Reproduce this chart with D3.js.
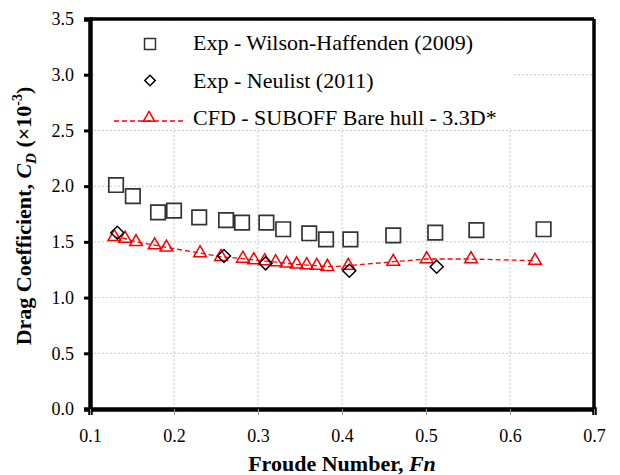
<!DOCTYPE html>
<html>
<head>
<meta charset="utf-8">
<script src="https://cdn.jsdelivr.net/npm/d3@7"></script>
<style>
  body { margin: 0; background: #fff; }
  svg text { font-family: "Liberation Serif", "Times New Roman", serif; fill: #000; }
</style>
</head>
<body>
<div id="chart"></div>
<script>
// Exp - Wilson-Haffenden (2009)
let wilsonFn = [0.131, 0.151, 0.181, 0.200, 0.230, 0.262, 0.281, 0.310, 0.330, 0.361, 0.381, 0.410, 0.461, 0.511, 0.560, 0.640]
let wilsonCd = [2.01, 1.91, 1.765, 1.78, 1.72, 1.695, 1.672, 1.672, 1.613, 1.577, 1.523, 1.523, 1.559, 1.582, 1.606, 1.613]

// Exp - Neulist (2011)
let neulistFn = [0.1325, 0.2595, 0.309, 0.4087, 0.5127]
let neulistCd = [1.582, 1.373, 1.307, 1.241, 1.277]

// CFD - SUBOFF Bare hull - 3.3D*
let cfdFn = [0.129, 0.1417, 0.1548, 0.177, 0.191, 0.231, 0.256, 0.282, 0.295, 0.308, 0.321, 0.334, 0.346, 0.358, 0.370, 0.3826, 0.4075, 0.461, 0.5008, 0.5536, 0.6298]
let cfdCd = [1.545, 1.53, 1.50, 1.47, 1.45, 1.40, 1.366, 1.35, 1.337, 1.328, 1.319, 1.307, 1.298, 1.292, 1.286, 1.277, 1.286, 1.322, 1.346, 1.346, 1.331]

let xTicks = [0.1, 0.2, 0.3, 0.4, 0.5, 0.6, 0.7]
let yTicks = [0, 0.5, 1.0, 1.5, 2.0, 2.5, 3.0, 3.5]

let legendLabels = ["Exp - Wilson-Haffenden (2009)", "Exp - Neulist (2011)", "CFD - SUBOFF Bare hull - 3.3D*"]

let W = 620, H = 475
let pLeft = 90, pRight = 594, pTop = 19, pBottom = 409
let serif = '"Liberation Serif", "Times New Roman", serif'

let svg = d3.select("#chart").append("svg")
  .attr("width", W)
  .attr("height", H)

let x = d3.scaleLinear().domain([0.1, 0.7]).range([pLeft, pRight])
let y = d3.scaleLinear().domain([0, 3.5]).range([pBottom, pTop])

// gridlines
svg.append("g").selectAll("line")
  .data(xTicks.slice(1, -1))
  .enter().append("line")
  .attr("x1", d => x(d)).attr("x2", d => x(d))
  .attr("y1", pTop).attr("y2", pBottom)
  .attr("stroke", "#c8c8c8").attr("stroke-width", 1).attr("stroke-dasharray", "2,2")

svg.append("g").selectAll("line")
  .data(yTicks.slice(1, -1))
  .enter().append("line")
  .attr("x1", pLeft).attr("x2", pRight)
  .attr("y1", d => y(d)).attr("y2", d => y(d))
  .attr("stroke", "#c8c8c8").attr("stroke-width", 1).attr("stroke-dasharray", "2,2")

// legend background hides the grid behind it
svg.append("rect")
  .attr("x", 95).attr("y", 23).attr("width", 418).attr("height", 105)
  .attr("fill", "#fff")

// frame: thin top/right, thick axes
svg.append("line").attr("x1", pLeft).attr("x2", pRight).attr("y1", pTop).attr("y2", pTop)
  .attr("stroke", "#000").attr("stroke-width", 3.5)
svg.append("line").attr("x1", pRight).attr("x2", pRight).attr("y1", pTop).attr("y2", pBottom)
  .attr("stroke", "#000").attr("stroke-width", 3.5)

// axes
let yAxis = svg.append("g")
  .attr("transform", `translate(${pLeft},0)`)
  .call(d3.axisLeft(y).tickValues(yTicks).tickFormat(d3.format(".1f")).tickSize(6).tickPadding(10))
yAxis.attr("font-family", serif)
yAxis.select(".domain").attr("stroke-width", 4.5)
yAxis.selectAll(".tick line").attr("stroke-width", 3)
yAxis.selectAll(".tick text").attr("font-size", 18).style("font-family", serif)

let xAxis = svg.append("g")
  .attr("transform", `translate(0,${pBottom})`)
  .call(d3.axisBottom(x).tickValues(xTicks).tickFormat(d3.format(".1f")).tickSize(6).tickPadding(14))
xAxis.attr("font-family", serif)
xAxis.select(".domain").attr("stroke-width", 4.5)
xAxis.selectAll(".tick line").attr("stroke", "#999").attr("stroke-width", 1)
xAxis.selectAll(".tick text").attr("font-size", 18).style("font-family", serif)

// CFD dashed line
let cfd = cfdFn.map((d, i) => ({fn: d, cd: cfdCd[i]}))
svg.append("path")
  .datum(cfd)
  .attr("d", d3.line().x(d => x(d.fn)).y(d => y(d.cd)))
  .attr("fill", "none")
  .attr("stroke", "#ff0000")
  .attr("stroke-width", 1.3)
  .attr("stroke-dasharray", "5,3")

let tri = d3.symbol().type(d3.symbolTriangle).size(70)
svg.append("g").selectAll("path")
  .data(cfd)
  .enter().append("path")
  .attr("d", tri)
  .attr("transform", d => `translate(${x(d.fn)},${y(d.cd)})`)
  .attr("fill", "none").attr("stroke", "#ff0000").attr("stroke-width", 1.5)

// Wilson-Haffenden squares
let sq = d3.symbol().type(d3.symbolSquare).size(210)
svg.append("g").selectAll("path")
  .data(wilsonFn.map((d, i) => ({fn: d, cd: wilsonCd[i]})))
  .enter().append("path")
  .attr("d", sq)
  .attr("transform", d => `translate(${x(d.fn)},${y(d.cd)})`)
  .attr("fill", "none").attr("stroke", "#333").attr("stroke-width", 1.7)

// Neulist diamonds
let dia = d3.symbol().type(d3.symbolSquare).size(85)
svg.append("g").selectAll("path")
  .data(neulistFn.map((d, i) => ({fn: d, cd: neulistCd[i]})))
  .enter().append("path")
  .attr("d", dia)
  .attr("transform", d => `translate(${x(d.fn)},${y(d.cd)}) rotate(45)`)
  .attr("fill", "none").attr("stroke", "#000").attr("stroke-width", 1.5)

// legend
let lg = svg.append("g")
let rowY = [50, 87.5, 125]
lg.append("path").attr("d", d3.symbol().type(d3.symbolSquare).size(120))
  .attr("transform", `translate(150,${rowY[0] - 6})`)
  .attr("fill", "none").attr("stroke", "#333").attr("stroke-width", 1.5)
lg.append("path").attr("d", d3.symbol().type(d3.symbolSquare).size(55))
  .attr("transform", `translate(150,${rowY[1] - 7}) rotate(45)`)
  .attr("fill", "none").attr("stroke", "#000").attr("stroke-width", 1.5)
lg.append("line").attr("x1", 114).attr("x2", 186).attr("y1", rowY[2] - 4).attr("y2", rowY[2] - 4)
  .attr("stroke", "#ff0000").attr("stroke-width", 1.3).attr("stroke-dasharray", "5,3")
lg.append("path").attr("d", d3.symbol().type(d3.symbolTriangle).size(55))
  .attr("transform", `translate(149,${rowY[2] - 7})`)
  .attr("fill", "none").attr("stroke", "#ff0000").attr("stroke-width", 1.5)

lg.selectAll("text")
  .data(legendLabels)
  .enter().append("text")
  .attr("x", 193)
  .attr("y", (d, i) => rowY[i])
  .attr("font-size", 22)
  .style("font-family", serif)
  .text(d => d)

// axis titles
let xt = svg.append("text")
  .attr("x", (pLeft + pRight) / 2).attr("y", 471)
  .attr("text-anchor", "middle")
  .attr("font-size", 22).attr("font-weight", "bold")
  .style("font-family", serif)
xt.append("tspan").text("Froude Number, ")
xt.append("tspan").attr("font-style", "italic").text("Fn")

let yt = svg.append("text")
  .attr("transform", `translate(31,${(pTop + pBottom) / 2 + 2}) rotate(-90)`)
  .attr("text-anchor", "middle")
  .attr("font-size", 22).attr("font-weight", "bold")
  .style("font-family", serif)
yt.append("tspan").text("Drag Coefficient, ")
yt.append("tspan").attr("font-style", "italic").text("C")
yt.append("tspan").attr("font-style", "italic").attr("font-size", 15).attr("dy", 5).text("D")
yt.append("tspan").attr("dy", -5).text(" (×10")
yt.append("tspan").attr("font-size", 14).attr("dy", -9).text("-3")
yt.append("tspan").attr("dy", 9).text(")")
</script>
</body>
</html>
